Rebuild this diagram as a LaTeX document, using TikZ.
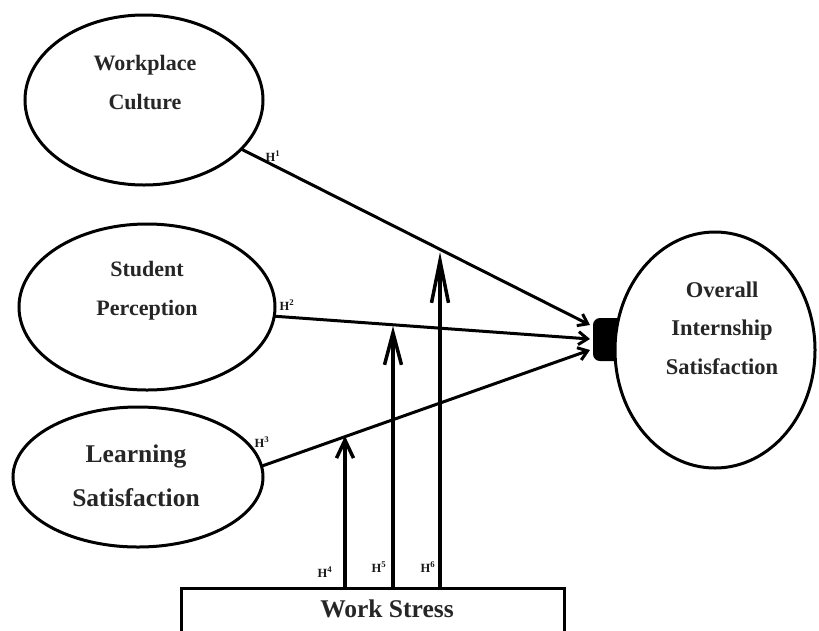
\documentclass[tikz,border=0pt]{standalone}
\usepackage{fontspec}
\setmainfont{Liberation Serif}
\usetikzlibrary{arrows.meta,shapes.geometric}
\begin{document}
\begin{tikzpicture}[x=1pt,y=-1pt,
  ell/.style={draw, ellipse, line width=3pt, inner sep=0pt, outer sep=0pt, fill=white},
  lbl/.style={font=\bfseries\fontsize{22}{39}\selectfont, text=black!85, align=center, inner sep=0pt},
  hyp/.style={font=\bfseries\fontsize{12.5}{12.5}\selectfont, text=black!90, inner sep=0pt},
  conn/.style={line width=3pt, -{Straight Barb[length=9pt,width=13pt]}},
  mod/.style={line width=3.5pt}
]
\useasboundingbox (0,0) rectangle (819,630);
\fill[white] (0,0) rectangle (819,630);

% black block in front of the outcome
\fill[black, rounded corners=7pt] (593,318) rectangle (645,361);

% constructs
\node[ell, minimum width=238pt, minimum height=170pt] (wc) at (144,100) {};
\node[ell, minimum width=256pt, minimum height=166pt] (sp) at (147,307) {};
\node[ell, minimum width=250pt, minimum height=140pt] (ls) at (138,477) {};
\node[ell, minimum width=200pt, minimum height=236pt] (ois) at (715,350) {};

\node[lbl] (wct) at (145,82.5) {Workplace\\Culture};
\node[lbl] (spt) at (147,291) {Student\\Perception};
\node[lbl, font=\bfseries\fontsize{25.5}{44}\selectfont] (lst) at (136,476) {Learning\\Satisfaction};
\node[lbl, font=\bfseries\fontsize{22.5}{38.5}\selectfont] (oist) at (722,328) {Overall\\Internship\\Satisfaction};

% moderator box
\node[draw, line width=3pt, minimum width=383pt, minimum height=90pt, inner sep=0pt, anchor=north] (ws) at (372.5,587) {};
\node[font=\bfseries\fontsize{25.5}{25.5}\selectfont, text=black!85, inner sep=0pt] (wst) at (387,609) {Work Stress};

% direct paths
\coordinate (e1) at (590,325);
\coordinate (e2) at (590,339);
\coordinate (e3) at (590,350);
\draw[conn] (wc) -- (e1);
\draw[conn] (sp) -- (e2);
\draw[conn] (ls.5) -- (e3);

% moderating paths
\coordinate (b4) at (345,587);
\coordinate (t4) at (345,436);
\coordinate (b5) at (393,587);
\coordinate (t5) at (393,326);
\coordinate (b6) at (440,587);
\coordinate (t6) at (440,252);
\draw[mod, -{Straight Barb[length=18pt,width=17pt]}] (b4) -- (t4);
\draw[mod, -{Straight Barb[length=32pt,width=17pt]}] (b5) -- (t5);
\draw[mod, -{Straight Barb[length=42pt,width=17pt]}] (b6) -- (t6);

% hypothesis labels
\node[hyp] (h1) at (273,156) {H\textsuperscript{1}};
\node[hyp] (h2) at (287,305) {H\textsuperscript{2}};
\node[hyp] (h3) at (262,442) {H\textsuperscript{3}};
\node[hyp] (h4) at (325,572) {H\textsuperscript{4}};
\node[hyp] (h5) at (379,567) {H\textsuperscript{5}};
\node[hyp] (h6) at (428,567) {H\textsuperscript{6}};
\end{tikzpicture}
\end{document}
